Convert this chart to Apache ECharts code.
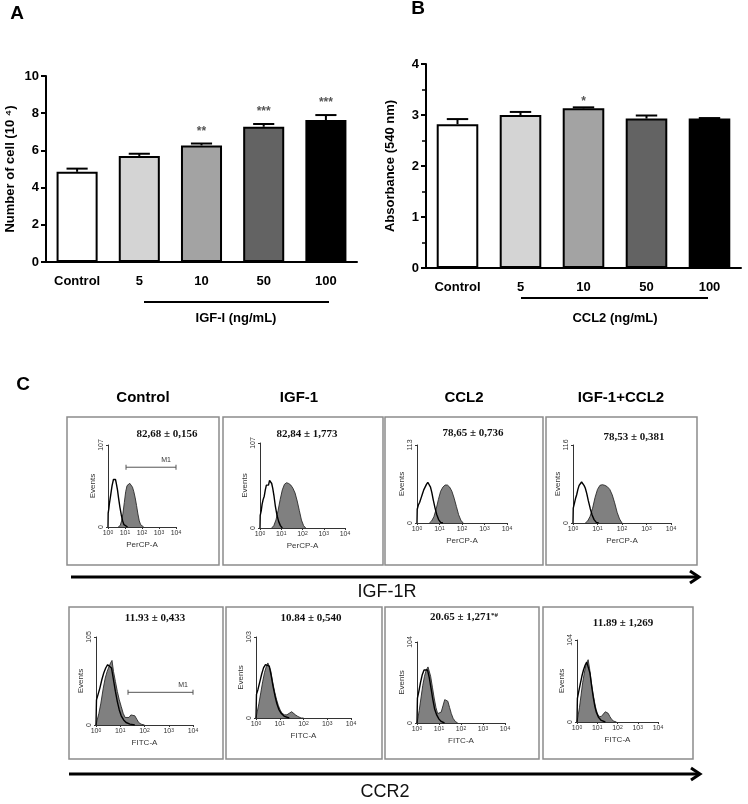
<!DOCTYPE html>
<html><head><meta charset="utf-8">
<script src="https://cdn.jsdelivr.net/npm/echarts/dist/echarts.min.js"></script>
<style>html,body{margin:0;padding:0;background:#fff}#c{width:748px;height:804px}</style>
</head><body><div id="c"></div>
<script>
// ---------- DATA ----------
const barCategories = ['Control', '5', '10', '50', '100'];
const cellNumber = [4.85, 5.70, 6.27, 7.27, 7.63];
const cellNumberErr = [0.17, 0.12, 0.10, 0.15, 0.27];
const cellStars = ['', '', '**', '***', '***'];
const absorbance = [2.82, 3.00, 3.13, 2.93, 2.93];
const absorbanceErr = [0.10, 0.06, 0.02, 0.06, 0.01];
const absorbanceStars = ['', '', '*', '', ''];
const decadeExponents = [0, 1, 2, 3, 4];

const groupNames = ['Control', 'IGF-1', 'CCL2', 'IGF-1+CCL2'];
const igf1rValues = ['82,68 ± 0,156', '82,84 ± 1,773', '78,65 ± 0,736', '78,53 ± 0,381'];
const ccr2Values = ['11.93 ± 0,433', '10.84 ± 0,540', '20.65 ± 1,271', '11.89 ± 1,269'];
const ccr2Marks = ['', '', '*#', ''];
const histYMax = [107, 107, 113, 116, 105, 103, 104, 104];

// IGF-1R histograms: [log10 fluorescence, events]
const igf1rIsoControl = [[0,0],[0.01,18],[0.05,24],[0.08,30],[0.12,36],[0.16,42],[0.2,48],[0.24,54],[0.28,58],[0.32,62],[0.36,60],[0.4,64],[0.44,62],[0.48,58],[0.52,56],[0.56,48],[0.62,38],[0.7,26],[0.78,16],[0.86,8],[0.94,3],[1.04,1],[1.15,0]];
const igf1rStainControl = [[0.6,0],[0.72,2],[0.8,8],[0.88,18],[0.96,32],[1.04,46],[1.12,54],[1.2,56],[1.28,57],[1.36,55],[1.44,52],[1.52,46],[1.6,38],[1.68,28],[1.76,17],[1.84,8],[1.92,3],[2.0,1],[2.1,0]];
const igf1rIsoIgf1 = [[0,0],[0.01,16],[0.06,22],[0.1,30],[0.15,36],[0.2,40],[0.25,48],[0.3,54],[0.35,56],[0.4,54],[0.45,60],[0.5,58],[0.55,56],[0.6,50],[0.66,40],[0.72,28],[0.8,16],[0.88,8],[0.96,3],[1.05,0]];
const igf1rStainIgf1 = [[0.55,0],[0.65,3],[0.75,10],[0.85,22],[0.95,36],[1.05,48],[1.15,55],[1.25,57],[1.35,56],[1.45,54],[1.55,50],[1.65,44],[1.75,34],[1.85,22],[1.95,10],[2.05,3],[2.15,0]];
const igf1rIsoCcl2 = [[0,0],[0.01,20],[0.06,26],[0.12,30],[0.18,36],[0.24,42],[0.3,48],[0.36,52],[0.42,56],[0.48,59],[0.54,57],[0.6,52],[0.66,44],[0.72,34],[0.8,22],[0.88,12],[0.96,5],[1.05,1],[1.15,0]];
const igf1rStainCcl2 = [[0.55,0],[0.65,3],[0.75,9],[0.85,20],[0.95,34],[1.05,46],[1.15,52],[1.25,55],[1.35,55],[1.45,52],[1.55,46],[1.65,36],[1.75,24],[1.85,12],[1.95,4],[2.05,0]];
const igf1rIsoCombo = [[0,0],[0.01,22],[0.05,28],[0.1,36],[0.15,42],[0.2,50],[0.25,56],[0.3,58],[0.35,61],[0.4,60],[0.45,56],[0.5,52],[0.56,44],[0.62,34],[0.7,22],[0.78,12],[0.86,5],[0.95,1],[1.05,0]];
const igf1rStainCombo = [[0.5,0],[0.6,3],[0.7,10],[0.8,22],[0.9,38],[1.0,50],[1.1,56],[1.2,57],[1.3,56],[1.4,54],[1.5,50],[1.6,42],[1.7,30],[1.8,16],[1.9,6],[2.0,0]];

// CCR2 histograms
const ccr2IsoControl = [[0,0],[0.02,30],[0.08,36],[0.16,44],[0.24,54],[0.32,62],[0.4,68],[0.48,72],[0.56,74],[0.64,68],[0.72,54],[0.8,40],[0.88,28],[0.96,18],[1.04,11],[1.14,6],[1.24,3],[1.4,1],[1.6,0]];
const ccr2StainControl = [[0,0],[0.04,5],[0.12,14],[0.2,26],[0.3,44],[0.38,56],[0.46,64],[0.54,70],[0.6,74],[0.66,77],[0.72,64],[0.8,52],[0.88,40],[0.96,30],[1.04,22],[1.12,14],[1.2,9],[1.28,7],[1.36,9],[1.44,12],[1.52,13],[1.6,11],[1.68,7],[1.76,3],[1.86,1],[2.0,0]];
const ccr2IsoIgf1 = [[0,0],[0.02,30],[0.08,36],[0.16,46],[0.24,56],[0.32,64],[0.4,68],[0.48,70],[0.56,66],[0.64,54],[0.72,40],[0.8,28],[0.88,18],[0.96,11],[1.06,6],[1.2,2],[1.4,0]];
const ccr2StainIgf1 = [[0,0],[0.04,6],[0.12,18],[0.2,32],[0.28,46],[0.36,58],[0.44,66],[0.5,70],[0.56,71],[0.62,60],[0.7,46],[0.78,34],[0.86,24],[0.94,16],[1.02,10],[1.1,6],[1.2,4],[1.3,4],[1.4,6],[1.5,8],[1.58,7],[1.66,4],[1.76,2],[1.9,0],[2.0,0]];
const ccr2IsoCcl2 = [[0,0],[0.02,32],[0.08,40],[0.16,52],[0.24,62],[0.32,68],[0.4,70],[0.48,68],[0.56,58],[0.64,44],[0.72,30],[0.8,18],[0.9,10],[1.0,5],[1.1,2],[1.25,0]];
const ccr2StainCcl2 = [[0,0],[0.04,6],[0.1,16],[0.18,32],[0.26,48],[0.34,60],[0.42,68],[0.5,72],[0.56,70],[0.62,60],[0.7,46],[0.78,32],[0.86,20],[0.94,12],[1.02,10],[1.1,14],[1.18,22],[1.26,30],[1.32,32],[1.4,28],[1.48,20],[1.56,12],[1.64,6],[1.74,2],[1.85,0]];
const ccr2IsoCombo = [[0,0],[0.02,30],[0.08,38],[0.16,48],[0.24,58],[0.32,66],[0.4,72],[0.48,76],[0.56,74],[0.64,62],[0.72,46],[0.8,32],[0.88,20],[0.96,12],[1.06,6],[1.2,2],[1.4,0]];
const ccr2StainCombo = [[0,0],[0.04,6],[0.12,18],[0.2,34],[0.28,50],[0.36,62],[0.44,72],[0.5,76],[0.55,79],[0.62,68],[0.7,52],[0.78,38],[0.86,26],[0.94,16],[1.02,10],[1.1,7],[1.2,7],[1.3,10],[1.4,13],[1.46,14],[1.54,11],[1.62,7],[1.72,3],[1.82,1],[1.95,0]];

const histIso = [igf1rIsoControl, igf1rIsoIgf1, igf1rIsoCcl2, igf1rIsoCombo, ccr2IsoControl, ccr2IsoIgf1, ccr2IsoCcl2, ccr2IsoCombo];
const histStain = [igf1rStainControl, igf1rStainIgf1, igf1rStainCcl2, igf1rStainCombo, ccr2StainControl, ccr2StainIgf1, ccr2StainCcl2, ccr2StainCombo];
const histXNames = ['PerCP-A', 'PerCP-A', 'PerCP-A', 'PerCP-A', 'FITC-A', 'FITC-A', 'FITC-A', 'FITC-A'];
const m1GateIgf1r = [[1.06, 78], [4.0, 78]];
const m1GateCcr2 = [[1.32, 39], [4.0, 39]];

// ---------- STYLE / LAYOUT ----------
const FONT = '"Liberation Sans", Arial, sans-serif';
const SERIF = '"Liberation Serif", "Times New Roman", serif';
const barColors = ['#ffffff', '#d4d4d4', '#a3a3a3', '#636363', '#000000'];
const histLayouts = [
  {left:108, top:445, width:68, height:82},
  {left:260, top:443, width:85, height:85},
  {left:417, top:445, width:90, height:78},
  {left:573, top:445, width:98, height:78},
  {left:96, top:637, width:97, height:88},
  {left:256, top:637, width:95, height:81},
  {left:417, top:642, width:88, height:81},
  {left:577, top:640, width:81, height:82}
];

const grids = [
  {left:46, top:76, width:311, height:186},
  {left:426, top:64, width:315, height:204}
].concat(histLayouts);

function barXAxis(gi) {
  return {
    type:'category', gridIndex:gi, data:barCategories,
    axisLine:{lineStyle:{color:'#000', width:2}},
    axisTick:{alignWithLabel:true, length:6, lineStyle:{color:'#000', width:2}},
    axisLabel:{fontFamily:FONT, fontWeight:'bold', fontSize:13, color:'#000', margin:13}
  };
}
function barYAxis(gi, max, interval, name, minor) {
  return {
    type:'value', gridIndex:gi, min:0, max:max, interval:interval,
    axisLine:{show:true, lineStyle:{color:'#000', width:2}},
    axisTick:{show:true, length:5, lineStyle:{color:'#000', width:2}},
    minorTick:{show:!!minor, splitNumber:2, length:4, lineStyle:{color:'#000', width:1.5}},
    splitLine:{show:false},
    axisLabel:{fontFamily:FONT, fontWeight:'bold', fontSize:13, color:'#000', margin:7},
    name:name, nameLocation:'middle', nameGap:29,
    nameTextStyle:{fontFamily:FONT, fontWeight:'bold', fontSize:13, color:'#000'}
  };
}

const xAxes = [barXAxis(0), barXAxis(1)];
const yAxes = [barYAxis(0, 10, 2, 'Number of cell (10 \u2074)', false), barYAxis(1, 4, 1, 'Absorbance (540 nm)', true)];

histLayouts.forEach(function(l, i) {
  const gi = i + 2;
  xAxes.push({
    type:'value', gridIndex:gi, min:0, max:4, interval:1,
    axisLine:{lineStyle:{color:'#333', width:1}},
    axisTick:{length:2, lineStyle:{color:'#333'}},
    splitLine:{show:false},
    axisLabel:{fontFamily:FONT, fontSize:7, color:'#333', margin:3,
      formatter:function(v){ return '10{s|' + v + '}'; },
      rich:{s:{fontSize:5, color:'#333', verticalAlign:'top', fontFamily:FONT}}},
    name:histXNames[i], nameLocation:'middle', nameGap:14,
    nameTextStyle:{fontFamily:FONT, fontSize:8, color:'#333'}
  });
  yAxes.push({
    type:'value', gridIndex:gi, min:0, max:histYMax[i], interval:histYMax[i],
    axisLine:{show:true, lineStyle:{color:'#333', width:1}},
    axisTick:{show:true, length:2, lineStyle:{color:'#333'}},
    splitLine:{show:false},
    axisLabel:{fontFamily:FONT, fontSize:7, color:'#333', rotate:90, margin:3},
    name:'Events', nameLocation:'middle', nameGap:11, nameRotate:90,
    nameTextStyle:{fontFamily:FONT, fontSize:8, color:'#333'}
  });
});

function errRender(errs, stars, starGap) {
  return function(params, api) {
    const i = params.dataIndex;
    const v = api.value(1);
    const base = api.coord([i, v]);
    const top = api.coord([i, v + errs[i]]);
    const half = api.size([1, 0])[0] * 0.17;
    const children = [
      {type:'line', shape:{x1:base[0], y1:base[1], x2:top[0], y2:top[1]}, style:{stroke:'#000', lineWidth:2}},
      {type:'line', shape:{x1:top[0]-half, y1:top[1], x2:top[0]+half, y2:top[1]}, style:{stroke:'#000', lineWidth:2}}
    ];
    if (stars[i]) {
      children.push({type:'text', style:{text:stars[i], x:top[0], y:top[1]-starGap, align:'center', verticalAlign:'bottom',
        font:'bold 12px ' + FONT, fill:'#555'}});
    }
    return {type:'group', children:children};
  };
}

const series = [];
[[cellNumber, cellNumberErr, cellStars, 6], [absorbance, absorbanceErr, absorbanceStars, 0]].forEach(function(d, gi) {
  series.push({
    type:'bar', xAxisIndex:gi, yAxisIndex:gi, barWidth:'66%',
    data:d[0].map(function(v, i){ return {value:v, itemStyle:{color:barColors[i]}}; }),
    itemStyle:{borderColor:'#000', borderWidth:2}, z:2
  });
  series.push({
    type:'custom', xAxisIndex:gi, yAxisIndex:gi, z:3,
    data:d[0].map(function(v, i){ return [i, v]; }),
    renderItem:errRender(d[1], d[2], d[3])
  });
});

histLayouts.forEach(function(l, i) {
  const xi = i + 2;
  series.push({type:'line', xAxisIndex:xi, yAxisIndex:xi, data:histIso[i], symbol:'none', silent:true,
    lineStyle:{width:0}, areaStyle:{color:'#ffffff', opacity:1}, z:2});
  series.push({type:'line', xAxisIndex:xi, yAxisIndex:xi, data:histStain[i], symbol:'none', silent:true,
    lineStyle:{color:'#2a2a2a', width:0.9}, areaStyle:{color:'#808080', opacity:1}, z:3});
  series.push({type:'line', xAxisIndex:xi, yAxisIndex:xi, data:histIso[i], symbol:'none', silent:true,
    lineStyle:{color:'#000', width:1.4}, z:4});
});

function gateSeries(xi, pts) {
  return {type:'line', xAxisIndex:xi, yAxisIndex:xi, silent:true, z:5,
    data:[{value:pts[0]}, {value:pts[1], label:{show:true, formatter:'M1', position:'top', offset:[-10, 0],
      fontFamily:FONT, fontSize:7, color:'#333', distance:1}}],
    symbol:'rect', symbolSize:[1, 5], itemStyle:{color:'#555'},
    lineStyle:{color:'#555', width:1}};
}
series.push(gateSeries(2, m1GateIgf1r));
series.push(gateSeries(6, m1GateCcr2));

// ---------- DECORATION ----------
const graphic = [];
function txt(x, y, text, font, fill, extra) {
  const g = {type:'text', x:x, y:y, style:Object.assign({text:text, font:font, fill:fill||'#000', align:'center', verticalAlign:'middle'}, extra||{})};
  graphic.push(g);
}
txt(17, 14, 'A', 'bold 19px ' + FONT);
txt(418, 9, 'B', 'bold 19px ' + FONT);
txt(23, 385, 'C', 'bold 19px ' + FONT);

graphic.push({type:'line', shape:{x1:144, y1:302, x2:329, y2:302}, style:{stroke:'#000', lineWidth:2}});
txt(236, 318, 'IGF-I (ng/mL)', 'bold 13px ' + FONT);
graphic.push({type:'line', shape:{x1:521, y1:298, x2:708, y2:298}, style:{stroke:'#000', lineWidth:2}});
txt(615, 318, 'CCL2 (ng/mL)', 'bold 13px ' + FONT);

const headX = [143, 299, 464, 621];
groupNames.forEach(function(n, i){ txt(headX[i], 398, n, 'bold 15px ' + FONT); });

const boxesRow1 = [[67,417,152,148],[223,417,160,148],[385,417,158,148],[546,417,151,148]];
const boxesRow2 = [[69,607,154,152],[226,607,156,152],[385,607,154,152],[543,607,150,152]];
boxesRow1.concat(boxesRow2).forEach(function(b){
  graphic.push({type:'rect', shape:{x:b[0], y:b[1], width:b[2], height:b[3]}, style:{fill:'none', stroke:'#8c8c8c', lineWidth:1.5}, z:-1});
});

const valPos1 = [[167,434],[307,434],[473,433],[634,437]];
igf1rValues.forEach(function(v, i){ txt(valPos1[i][0], valPos1[i][1], v, 'bold 11px ' + SERIF, '#111'); });
const valPos2 = [[155,618],[311,618],[464,617],[623,623]];
ccr2Values.forEach(function(v, i){
  if (ccr2Marks[i]) {
    txt(valPos2[i][0], valPos2[i][1], v + '{s|' + ccr2Marks[i] + '}', 'bold 11px ' + SERIF, '#111',
      {rich:{s:{font:'bold 7px ' + SERIF, fill:'#111', verticalAlign:'top'}}});
  } else {
    txt(valPos2[i][0], valPos2[i][1], v, 'bold 11px ' + SERIF, '#111');
  }
});

function arrow(x1, x2, y) {
  graphic.push({type:'line', shape:{x1:x1, y1:y, x2:x2-2, y2:y}, style:{stroke:'#000', lineWidth:3}});
  graphic.push({type:'polyline', shape:{points:[[x2-9, y-6],[x2, y],[x2-9, y+6]]}, style:{stroke:'#000', lineWidth:3, fill:'none'}});
}
arrow(71, 699, 577);
txt(387, 592, 'IGF-1R', '18px ' + FONT, '#111');
arrow(69, 700, 774);
txt(385, 792, 'CCR2', '18px ' + FONT, '#111');

const chart = echarts.init(document.getElementById('c'), null, {renderer:'canvas'});
chart.setOption({
  animation:false, backgroundColor:'#ffffff',
  grid:grids, xAxis:xAxes, yAxis:yAxes, series:series, graphic:graphic
});
</script></body></html>
